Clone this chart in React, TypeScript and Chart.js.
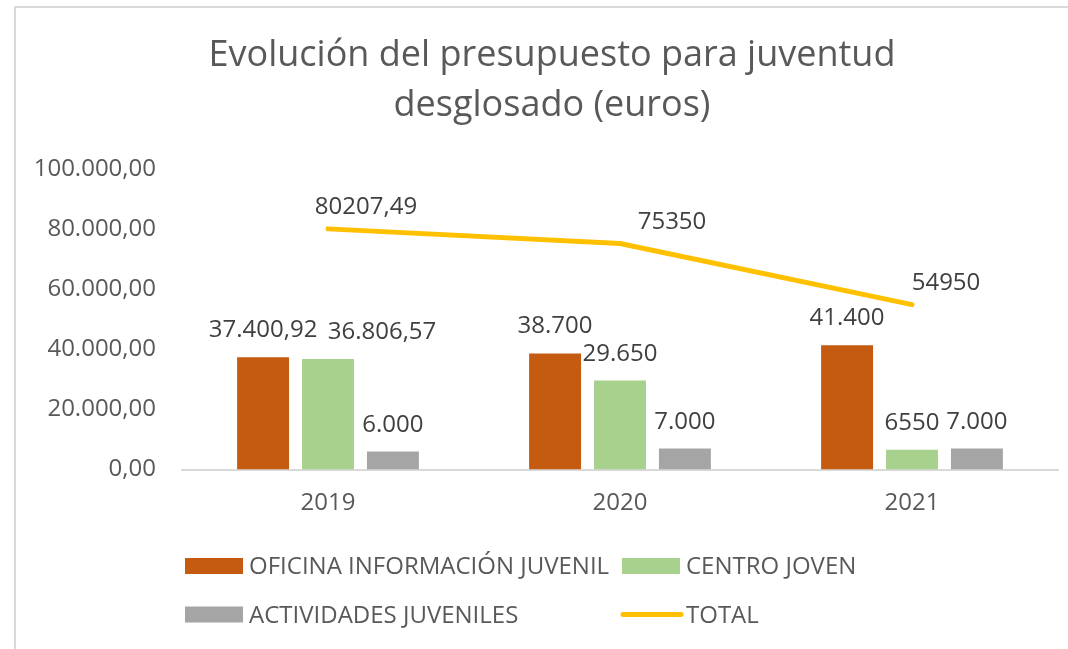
import React, { useEffect, useRef } from "react";
import { Chart, registerables } from "chart.js";

Chart.register(...registerables);

const categories = ["2019", "2020", "2021"];
const seriesNames = [
  "OFICINA INFORMACIÓN JUVENIL",
  "CENTRO JOVEN",
  "ACTIVIDADES JUVENILES",
  "TOTAL",
];
const oficina = [37400.92, 38700, 41400];
const centro = [36806.57, 29650, 6550];
const actividades = [6000, 7000, 7000];
const total = [80207.49, 75350, 54950];

const oficinaLabels = ["37.400,92", "38.700", "41.400"];
const centroLabels = ["36.806,57", "29.650", "6550"];
const actividadesLabels = ["6.000", "7.000", "7.000"];
const totalLabels = ["80207,49", "75350", "54950"];

const yTicks = [0, 20000, 40000, 60000, 80000, 100000];
const yTickLabels = ["0,00", "20.000,00", "40.000,00", "60.000,00", "80.000,00", "100.000,00"];

const titleLines = ["Evolución del presupuesto para juventud", "desglosado (euros)"];

const FONT = "'Open Sans', 'Noto Sans', sans-serif";
const TEXT_GRAY = "#595959";
const LABEL_GRAY = "#404040";

const frame = {
  id: "frame",
  afterLayout(chart: any) {
    // let the y tick labels use the space left of the layout padding (no clipping)
    if (chart.scales.y) chart.scales.y.left = 0;
  },
  beforeDraw(chart: any) {
    const { ctx, width, height } = chart;
    ctx.save();
    ctx.fillStyle = "#ffffff";
    ctx.fillRect(0, 0, width, height);
    ctx.strokeStyle = "#d9d9d9";
    ctx.lineWidth = 2;
    ctx.beginPath();
    ctx.moveTo(15, height + 5);
    ctx.lineTo(15, 7);
    ctx.lineTo(width + 5, 7);
    ctx.stroke();
    ctx.restore();
  },
};

const dataLabels = {
  id: "dataLabels",
  afterDatasetsDraw(chart: any) {
    const { ctx } = chart;
    ctx.save();
    ctx.font = `24px ${FONT}`;
    ctx.fillStyle = LABEL_GRAY;
    ctx.textAlign = "center";
    ctx.textBaseline = "alphabetic";
    chart.data.datasets.forEach((ds: any, di: number) => {
      const meta = chart.getDatasetMeta(di);
      const texts: string[] = ds.labelTexts || [];
      const dxs: number[] = ds.labelDx || [];
      const gap: number = ds.labelGap || 0;
      meta.data.forEach((el: any, i: number) => {
        const t = texts[i];
        if (!t) return;
        ctx.fillText(t, el.x + (dxs[i] || 0), el.y - gap);
      });
    });
    ctx.restore();
  },
};

const gridLegend = {
  id: "gridLegend",
  afterDraw(chart: any) {
    const { ctx } = chart;
    const cols = [185, 622];
    const rows = [566, 614.5];
    ctx.save();
    ctx.font = `24px ${FONT}`;
    ctx.textAlign = "left";
    ctx.textBaseline = "alphabetic";
    chart.data.datasets.forEach((ds: any, i: number) => {
      const x = cols[i % 2];
      const cy = rows[Math.floor(i / 2)];
      if (ds.type === "line") {
        ctx.strokeStyle = ds.borderColor;
        ctx.lineWidth = 5;
        ctx.lineCap = "round";
        ctx.beginPath();
        ctx.moveTo(x + 1, cy);
        ctx.lineTo(x + 59, cy);
        ctx.stroke();
      } else {
        ctx.fillStyle = ds.backgroundColor;
        ctx.fillRect(x, cy - 8, 58, 16);
      }
      ctx.fillStyle = TEXT_GRAY;
      ctx.fillText(ds.label, x + 64, cy + 8);
    });
    ctx.restore();
  },
};

export default function App() {
  const ref = useRef<HTMLCanvasElement>(null);

  useEffect(() => {
    if (!ref.current) return;
    Chart.defaults.font.family = FONT;
    const chart = new Chart(ref.current, {
      type: "bar",
      data: {
        labels: categories,
        datasets: [
          {
            type: "bar",
            label: seriesNames[0],
            data: oficina,
            backgroundColor: "#C55A11",
            labelTexts: oficinaLabels,
            labelDx: [0, 0, 0],
            labelGap: 20,
            order: 1,
          } as any,
          {
            type: "bar",
            label: seriesNames[1],
            data: centro,
            backgroundColor: "#A9D18E",
            labelTexts: centroLabels,
            labelDx: [54, 0, 0],
            labelGap: 20,
            order: 1,
          } as any,
          {
            type: "bar",
            label: seriesNames[2],
            data: actividades,
            backgroundColor: "#A5A5A5",
            labelTexts: actividadesLabels,
            labelDx: [0, 0, 0],
            labelGap: 20,
            order: 1,
          } as any,
          {
            type: "line",
            label: seriesNames[3],
            data: total,
            borderColor: "#FFC000",
            backgroundColor: "#FFC000",
            borderWidth: 5,
            borderCapStyle: "round",
            borderJoinStyle: "round",
            pointRadius: 0,
            pointHoverRadius: 0,
            tension: 0,
            fill: false,
            labelTexts: totalLabels,
            labelDx: [38, 52, 34],
            labelGap: 14.5,
            order: 0,
          } as any,
        ],
      },
      options: {
        responsive: false,
        animation: false,
        devicePixelRatio: 1,
        layout: { padding: { left: 46, right: 10, top: 0, bottom: 0 } },
        datasets: {
          bar: { categoryPercentage: 0.667, barPercentage: 0.8 },
        },
        plugins: {
          legend: { display: false },
          tooltip: { enabled: false },
          title: {
            display: true,
            text: titleLines,
            color: TEXT_GRAY,
            font: { family: FONT, size: 36, weight: "normal", lineHeight: 50 / 36 },
            padding: { top: 31, bottom: 38.5 },
          },
        },
        scales: {
          x: {
            grid: { display: false, drawTicks: false },
            border: { display: true, color: "#d9d9d9", width: 2 },
            ticks: { color: TEXT_GRAY, font: { size: 24 }, padding: 19 },
            afterFit: (scale: any) => {
              scale.height = 179.5;
            },
          },
          y: {
            min: 0,
            max: 100000,
            grid: { display: false, drawTicks: false },
            border: { display: false },
            ticks: {
              stepSize: 20000,
              color: TEXT_GRAY,
              font: { size: 24 },
              padding: 26,
              callback: (v: any) => {
                const idx = yTicks.indexOf(Number(v));
                return idx >= 0 ? yTickLabels[idx] : "";
              },
            },
            afterFit: (scale: any) => {
              scale.width = 136;
            },
          },
        },
      } as any,
      plugins: [frame, dataLabels, gridLegend],
    });
    return () => chart.destroy();
  }, []);

  return (
    <div style={{ position: "fixed", left: 0, top: 0, width: 1068, height: 649, background: "#fff" }}>
      <canvas ref={ref} width={1068} height={649} style={{ display: "block", width: 1068, height: 649 }} />
    </div>
  );
}
